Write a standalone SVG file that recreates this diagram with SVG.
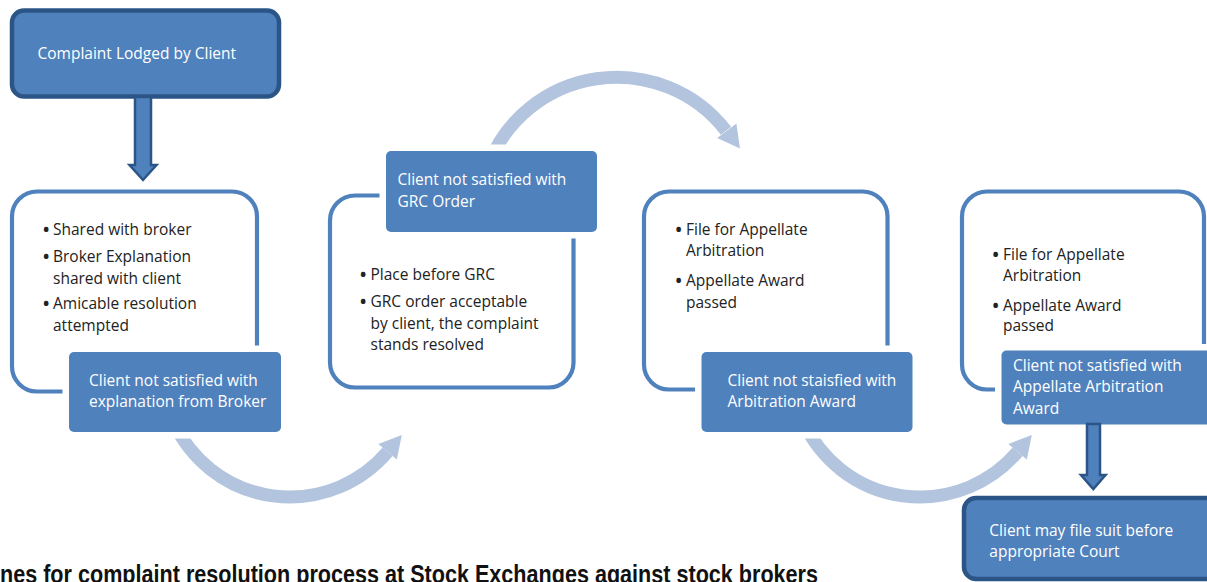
<svg xmlns="http://www.w3.org/2000/svg" width="1207" height="582" viewBox="0 0 1207 582">
<style>
.t{font-family:"Open Sans","Noto Sans",sans-serif;font-size:15.5px;fill:#222}
.b{font-family:"Open Sans","Noto Sans",sans-serif;font-size:22px;fill:#222}
.w{font-family:"Open Sans","Noto Sans",sans-serif;font-size:15.5px;fill:#fff}
.outline{fill:#fff;stroke:#4f81bd;stroke-width:4.2}
.label{fill:#4f81bd;stroke:#fff;stroke-width:13;paint-order:stroke}
.term{fill:#4f81bd;stroke:#2c5587;stroke-width:4.5}
.arc{fill:none;stroke:#b3c4de;stroke-width:13}
.head{fill:#b3c4de}
.down{fill:#4f81bd;stroke:#2c5587;stroke-width:2.5;stroke-linejoin:miter}
.cap{font-family:"Liberation Sans",Arial,sans-serif;font-weight:bold;font-size:26px;fill:#111}
</style>
<rect width="1207" height="582" fill="#fff"/>

<g id="connectors">
  <path class="arc" d="M174,423.1 A128,128 0 0 0 387.6,451.8"/>
  <polygon class="head" points="401.8,435 396.8,459.6 378.4,444"/>
  <path class="arc" d="M488.1,165.8 A137,135 0 0 1 726,130.8"/>
  <polygon class="head" points="740,148.4 736.4,123.6 717.2,138"/>
  <g transform="translate(630,0)">
    <path class="arc" d="M174,423.1 A128,128 0 0 0 387.6,451.8"/>
    <polygon class="head" points="401.8,435 396.8,459.6 378.4,444"/>
  </g>
</g>

<g id="n-lodged">
  <rect class="term" x="12" y="10.5" width="267" height="86" rx="12"/>
  <text class="w" x="37.5" y="59">Complaint Lodged by Client</text>
</g>

<g id="n-broker">
  <rect class="outline" x="12" y="191.5" width="245" height="200" rx="25"/>
  <text class="b" x="42" y="236.5">•</text><text class="t" x="53" y="234.5">Shared with broker</text>
  <text class="b" x="42" y="264">•</text><text class="t" x="53" y="262">Broker Explanation</text>
  <text class="t" x="53" y="284">shared with client</text>
  <text class="b" x="42" y="311">•</text><text class="t" x="53" y="309">Amicable resolution</text>
  <text class="t" x="53" y="330.5">attempted</text>
</g>

<g id="n-grc">
  <rect class="outline" x="330" y="195.5" width="243.5" height="192" rx="25"/>
  <text class="b" x="359" y="281.5">•</text><text class="t" x="370.5" y="279.5">Place before GRC</text>
  <text class="b" x="359" y="309">•</text><text class="t" x="370.5" y="307">GRC order acceptable</text>
  <text class="t" x="370.5" y="329">by client, the complaint</text>
  <text class="t" x="370.5" y="350">stands resolved</text>
</g>

<g id="n-arb">
  <rect class="outline" x="644" y="191.5" width="243.5" height="198" rx="25"/>
  <text class="b" x="674.5" y="236.5">•</text><text class="t" x="686" y="234.5">File for Appellate</text>
  <text class="t" x="686" y="256">Arbitration</text>
  <text class="b" x="674.5" y="288">•</text><text class="t" x="686" y="286">Appellate Award</text>
  <text class="t" x="686" y="308">passed</text>
</g>

<g id="n-appellate">
  <rect class="outline" x="962" y="191.5" width="242" height="198" rx="25"/>
  <text class="b" x="991.5" y="261.5">•</text><text class="t" x="1003" y="259.5">File for Appellate</text>
  <text class="t" x="1003" y="280.5">Arbitration</text>
  <text class="b" x="991.5" y="312.5">•</text><text class="t" x="1003" y="310.5">Appellate Award</text>
  <text class="t" x="1003" y="331">passed</text>
</g>

<g id="l-broker">
  <rect class="label" x="69" y="352" width="212" height="80" rx="5"/>
  <text class="w" x="89" y="386">Client not satisfied with</text>
  <text class="w" x="89" y="407">explanation from Broker</text>
</g>

<g id="l-grc">
  <rect class="label" x="386" y="151" width="211" height="81" rx="5"/>
  <text class="w" x="397.5" y="185">Client not satisfied with</text>
  <text class="w" x="397.5" y="207">GRC Order</text>
</g>

<g id="l-arb">
  <rect class="label" x="701.5" y="352" width="211" height="80" rx="5"/>
  <text class="w" x="727.5" y="386">Client not staisfied with</text>
  <text class="w" x="727.5" y="407">Arbitration Award</text>
</g>

<g id="l-appellate">
  <rect class="label" x="1001.5" y="350.5" width="215" height="74" rx="5"/>
  <text class="w" x="1013" y="370.5">Client not satisfied with</text>
  <text class="w" x="1013" y="392">Appellate Arbitration</text>
  <text class="w" x="1013" y="414">Award</text>
</g>

<g id="arrows-down">
  <polygon class="down" points="135,97 151,97 151,165 156.5,165 143,180 129.5,165 135,165"/>
  <polygon class="down" points="1087,424 1100,424 1100,475 1105.5,475 1093.3,489 1081,475 1087,475"/>
</g>

<g id="n-court">
  <rect class="term" x="964" y="498" width="262" height="81" rx="12"/>
  <text class="w" x="989.3" y="536">Client may file suit before</text>
  <text class="w" x="989.3" y="557">appropriate Court</text>
</g>

<text class="cap" x="0" y="583" textLength="818" lengthAdjust="spacingAndGlyphs">nes for complaint resolution process at Stock Exchanges against stock brokers</text>
</svg>
